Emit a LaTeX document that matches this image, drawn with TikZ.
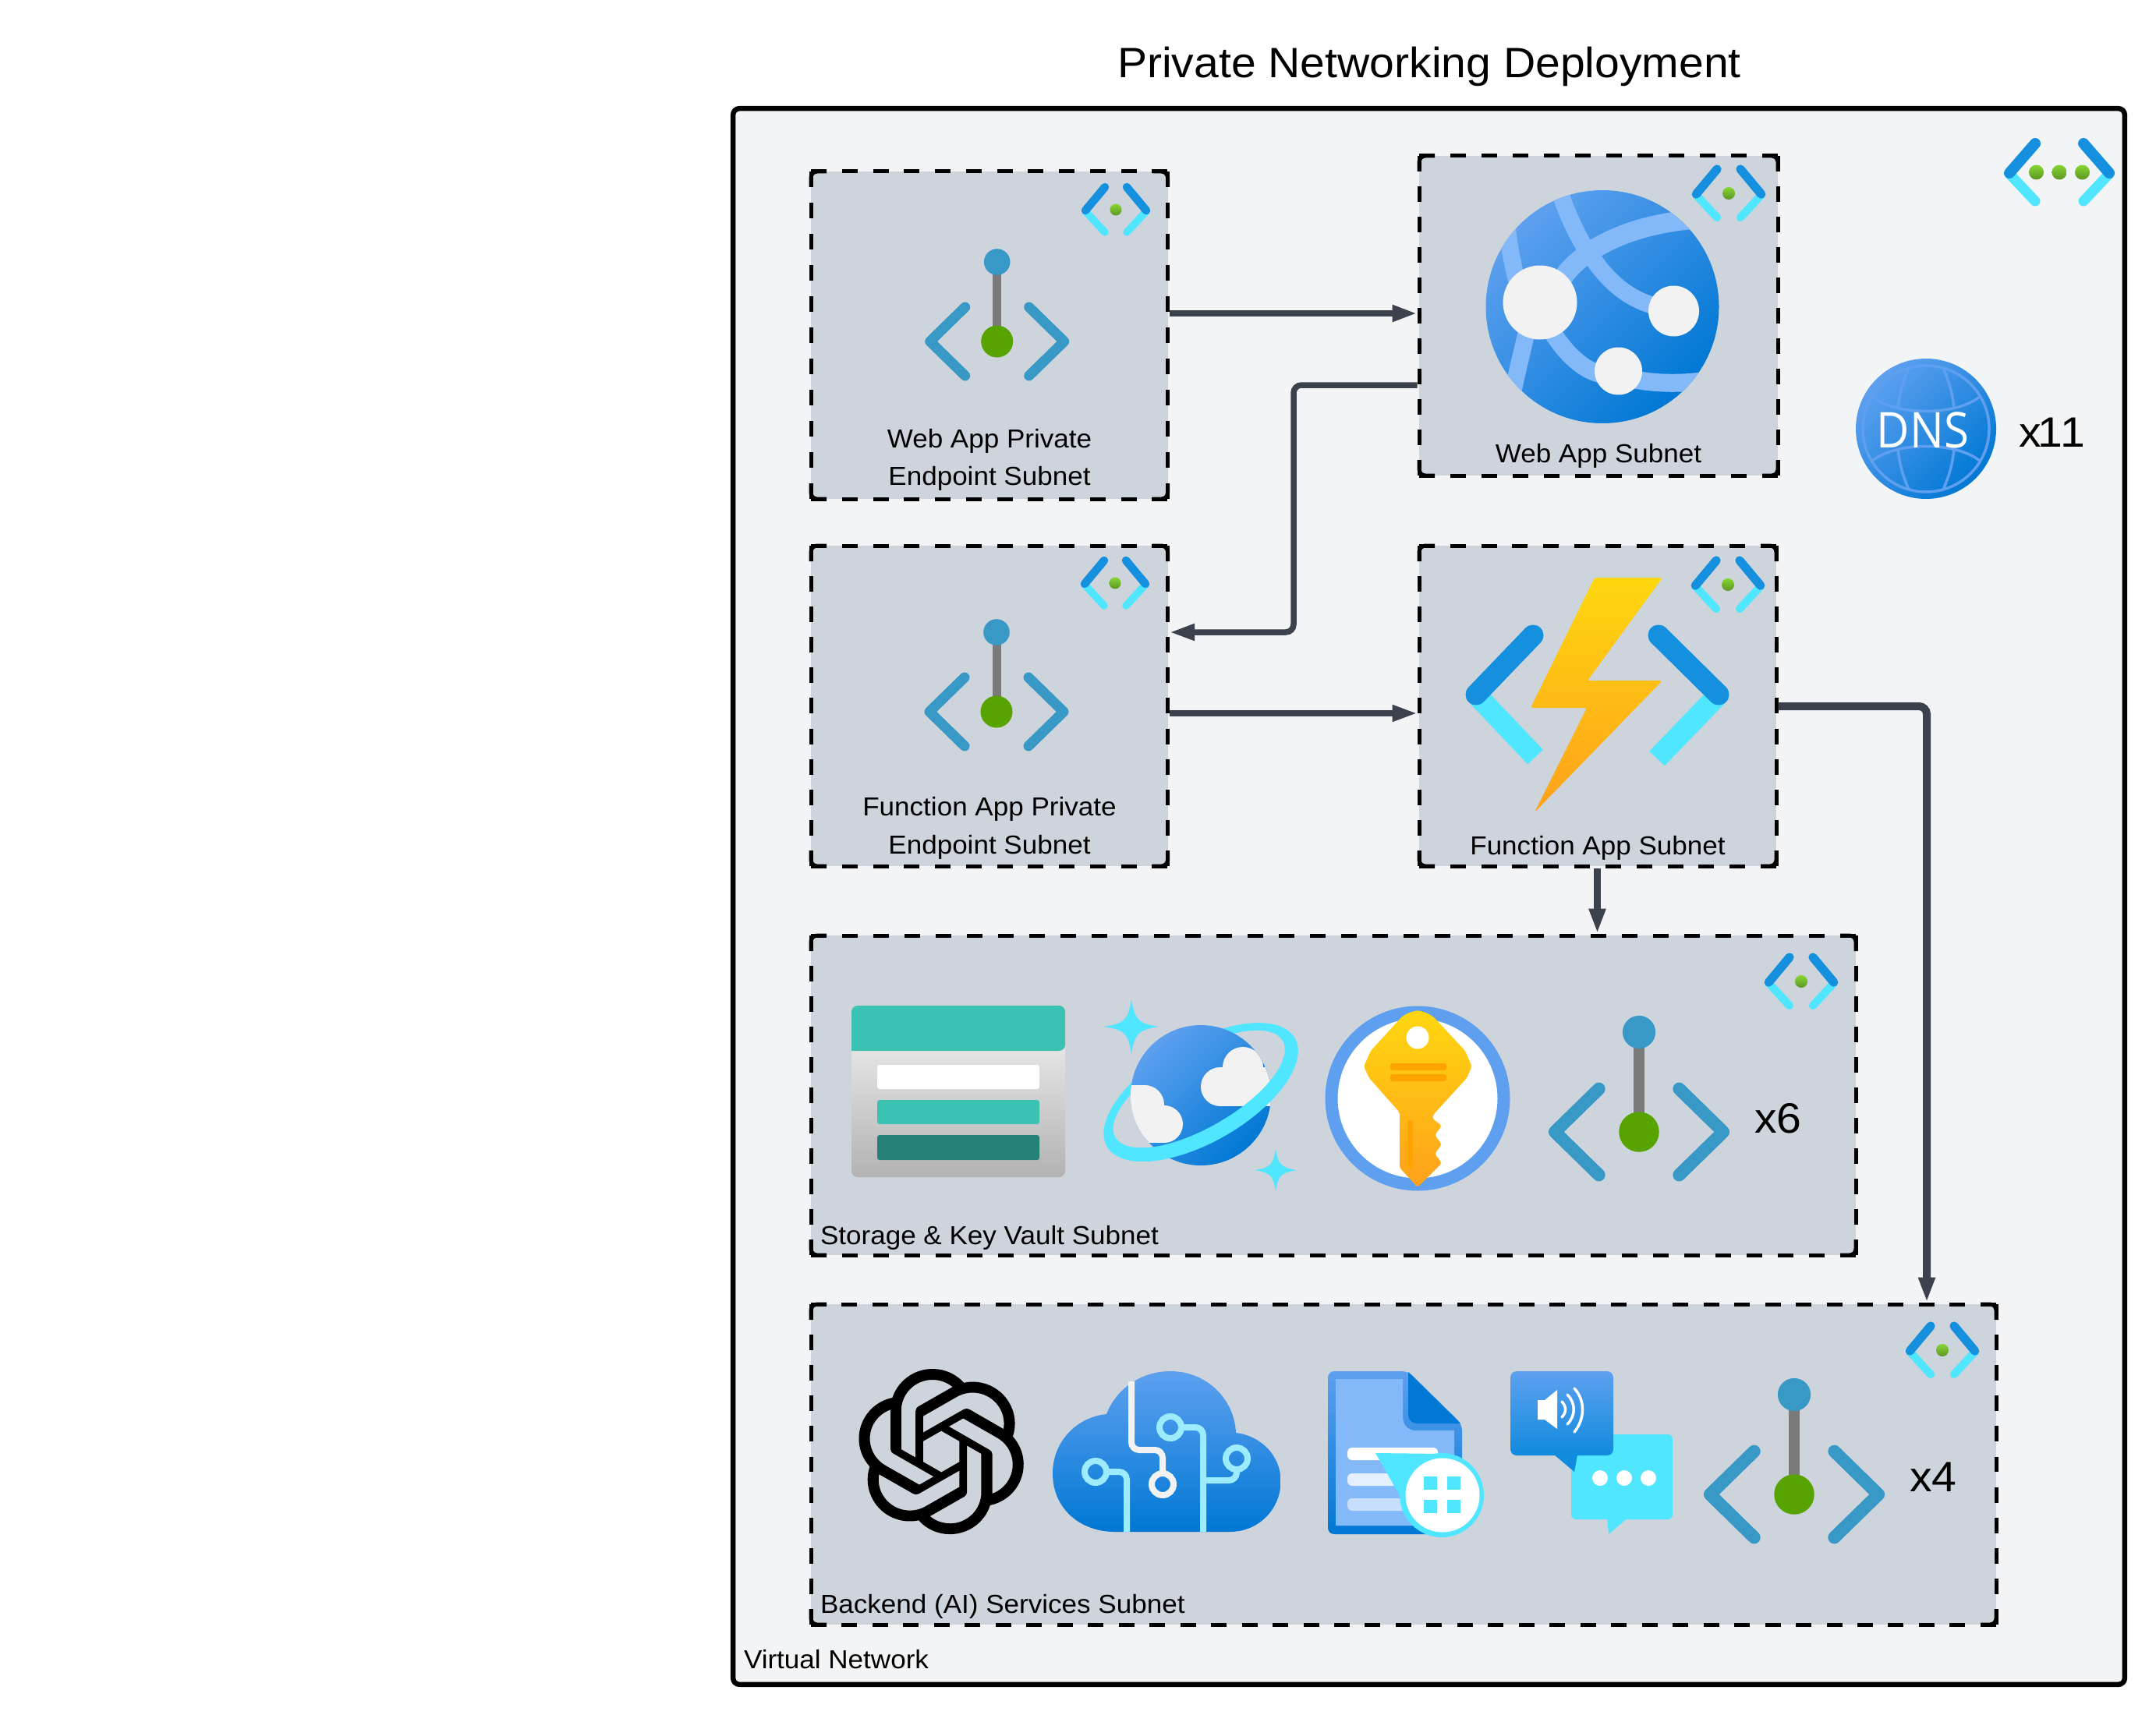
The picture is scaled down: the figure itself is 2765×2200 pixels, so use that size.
\documentclass[tikz,border=0pt]{standalone}
\usepackage{fontspec}
\setmainfont[FakeStretch=1.05]{Liberation Sans}
\newfontfamily\dnsfont[FakeStretch=0.92]{Open Sans}
\usetikzlibrary{arrows.meta,svg.path}
\definecolor{vnetbg}{HTML}{F3F4F6}
\definecolor{subbg}{HTML}{CDD4DC}
\definecolor{conncol}{HTML}{3B424D}
\definecolor{azblue}{HTML}{1490DF}
\definecolor{azcyan}{HTML}{50E6FF}
\definecolor{peblue}{HTML}{3999C6}
\definecolor{pegreen}{HTML}{57A300}
\definecolor{pegray}{HTML}{7A7A7A}
\definecolor{gtop}{HTML}{5EA0EF}
\definecolor{gbot}{HTML}{0078D4}
\definecolor{band}{HTML}{83B9F9}
\definecolor{cloudw}{HTML}{F2F2F2}
\definecolor{teal}{HTML}{3BC2B3}
\definecolor{dteal}{HTML}{258277}
\definecolor{boltt}{HTML}{FED70F}
\definecolor{boltb}{HTML}{FEA11B}
\definecolor{kor}{HTML}{FFA300}
\definecolor{circ}{HTML}{9CEBFF}
\definecolor{dgt}{HTML}{86D633}
\definecolor{dgb}{HTML}{5E9624}
\tikzset{
  subnetbox/.style={fill=subbg,draw=none,inner sep=0pt,outer sep=0.05cm,rectangle},
  conn/.style={draw=conncol,rounded corners=0.2cm},
  tipa/.style={-{Triangle[length=0.64cm,width=0.4cm]}},
  lbl/.style={inner sep=0pt,outer sep=0pt,text=black,font=\fontsize{19pt}{22pt}\selectfont},
  big/.style={inner sep=0pt,outer sep=0pt,text=black,font=\fontsize{31pt}{36pt}\selectfont},
  diag/.style={top color=gtop,bottom color=gbot,shading angle=45},
}
% dashed subnet box: name x1 y1 x2 y2
\newcommand{\subnetframe}[5]{%
  \node[subnetbox,minimum width={(#4-#2)*0.02cm},minimum height={(#5-#3)*0.02cm}] (#1) at ({(#2+#4)/2},{(#3+#5)/2}) {};
  \pgfmathsetmacro\hp{(#4-#2-20)/round((#4-#2-20)/40)}
  \pgfmathsetmacro\hg{(\hp-20)*0.02}
  \pgfmathsetmacro\vp{(#5-#3-20)/round((#5-#3-20)/40)}
  \pgfmathsetmacro\vg{(\vp-20)*0.02}
  \draw[black,line width=0.1cm,dash pattern=on 0.4cm off \hg cm] (#2,#3) -- (#4,#3);
  \draw[black,line width=0.1cm,dash pattern=on 0.4cm off \hg cm] (#2,#5) -- (#4,#5);
  \draw[black,line width=0.1cm,dash pattern=on 0.4cm off \vg cm] (#2,#3) -- (#2,#5);
  \draw[black,line width=0.1cm,dash pattern=on 0.4cm off \vg cm] (#4,#3) -- (#4,#5);
  \draw[black,line width=0.1cm,rounded corners=0.16cm] (#2,#3+20) -- (#2,#3) -- (#2+20,#3);
  \draw[black,line width=0.1cm,rounded corners=0.16cm] (#4,#3+20) -- (#4,#3) -- (#4-20,#3);
  \draw[black,line width=0.1cm,rounded corners=0.16cm] (#2,#5-20) -- (#2,#5) -- (#2+20,#5);
  \draw[black,line width=0.1cm,rounded corners=0.16cm] (#4,#5-20) -- (#4,#5) -- (#4-20,#5);
}
% small subnet icon: x y scale
\newcommand{\subneticon}[3]{%
  \begin{scope}[shift={(#1,#2)},scale=#3,line cap=round,line join=round]
    \draw[azcyan,line width={9.5*#3*0.02cm}] (-39,2) -- (-14,29);
    \draw[azcyan,line width={9.5*#3*0.02cm}] (39,2) -- (14,29);
    \draw[azblue,line width={10.5*#3*0.02cm}] (-39,1) -- (-14,-29);
    \draw[azblue,line width={10.5*#3*0.02cm}] (39,1) -- (14,-29);
    \shade[top color=dgt,bottom color=dgb] (0,0) circle (7.5);
  \end{scope}}
% private endpoint icon: x y (of green dot) scale
\newcommand{\peicon}[3]{%
  \begin{scope}[shift={(#1,#2)},scale=#3,line cap=round,line join=round]
    \fill[pegray] (-5.5,-102) rectangle (5.5,0);
    \fill[peblue] (0,-102) circle (16.8);
    \fill[pegreen] (0,0) circle (20.5);
    \draw[peblue,line width={13*#3*0.02cm}] (-41,-44) -- (-86,0) -- (-41,44);
    \draw[peblue,line width={13*#3*0.02cm}] (41,-44) -- (86,0) -- (41,44);
  \end{scope}}
\newcommand{\sparkle}[3]{%
  \begin{scope}[shift={(#1,#2)},scale=#3]
    \fill[azcyan] (0,-1) .. controls (.12,-.25) and (.25,-.12) .. (1,0) .. controls (.25,.12) and (.12,.25) .. (0,1) .. controls (-.12,.25) and (-.25,.12) .. (-1,0) .. controls (-.25,-.12) and (-.12,-.25) .. (0,-1) -- cycle;
  \end{scope}}
\begin{document}
\begin{tikzpicture}[x=0.02cm,y=-0.02cm]
\useasboundingbox (0,0) rectangle (2765,2200);
\fill[white] (0,0) rectangle (2765,2200);
\node[lbl,anchor=base,font=\fontsize{30.95pt}{36pt}\selectfont] (title) at (1833,100) {Private Networking Deployment};
\node[draw=black,fill=vnetbg,line width=0.13cm,rounded corners=0.16cm,inner sep=0pt,minimum width=35.7cm,minimum height=40.44cm] (vnet) at (1832.5,1150) {};

\subnetframe{webpe}{1040}{220}{1497.5}{640}
\subnetframe{webapp}{1820}{200}{2280}{610}
\subnetframe{funcpe}{1040}{700}{1497.5}{1111}
\subnetframe{funcapp}{1820}{700}{2278}{1111}
\subnetframe{stor}{1040}{1200}{2380}{1610}
\subnetframe{back}{1040}{1673}{2560}{2084}

% subnet icons
\subneticon{1431}{269}{1}
\subneticon{2217}{248}{1.07}
\subneticon{1430}{748}{1}
\subneticon{2216}{750}{1.07}
\subneticon{2310}{1259}{1.07}
\subneticon{2491}{1732}{1.07}
% vnet icon
\begin{scope}[shift={(2641,221)},line cap=round,line join=round]
  \draw[azcyan,line width=0.26cm] (-64,2) -- (-31,37);
  \draw[azcyan,line width=0.26cm] (64,2) -- (31,37);
  \draw[azblue,line width=0.28cm] (-64,1) -- (-31,-37);
  \draw[azblue,line width=0.28cm] (64,1) -- (31,-37);
  \shade[top color=dgt,bottom color=dgb] (-29.5,0) circle (9.5);
  \shade[top color=dgt,bottom color=dgb] (0,0) circle (9.5);
  \shade[top color=dgt,bottom color=dgb] (29.5,0) circle (9.5);
\end{scope}
% private endpoints
\peicon{1278.7}{438}{1}
\peicon{1278}{913}{1}
\peicon{2102}{1452}{1.255}
\peicon{2301}{1917}{1.255}

% web app globe
\shade[diag] (2055,393.5) circle (149.5);
\begin{scope}
  \clip (2055,393.5) circle (149.5);
  \draw[band,line width=0.44cm] (1998,240) .. controls (2010,275) and (2025,310) .. (2045,335) .. controls (2070,370) and (2100,390) .. (2135,395);
  \draw[band,line width=0.5cm] (2005,355) .. controls (2030,320) and (2090,285) .. (2190,280);
  \draw[band,line width=0.44cm] (1932,270) .. controls (1932,300) and (1938,330) .. (1945,360);
  \draw[band,line width=0.44cm] (1958,425) .. controls (1950,460) and (1942,490) .. (1935,530);
  \draw[band,line width=0.46cm] (1990,425) .. controls (2015,465) and (2045,485) .. (2070,480) .. controls (2100,490) and (2140,495) .. (2190,488);
\end{scope}
\fill[cloudw] (1975,388) circle (47.5);
\fill[cloudw] (2146.5,399) circle (32.5);
\fill[cloudw] (2075.5,476) circle (30.5);

% DNS
\shade[diag] (2470,550) circle (90);
\begin{scope}[shift={(2470,550)},gtop,line width=0.07cm]
  \draw (0,0) circle (81);
  \draw (-70,-42) .. controls (-40,-16) and (40,-16) .. (70,-42);
  \draw (-70,42) .. controls (-40,16) and (40,16) .. (70,42);
  \draw (-22,-78) .. controls (-30,-60) and (-34,-45) .. (-36,-26);
  \draw (22,-78) .. controls (30,-60) and (34,-45) .. (36,-26);
  \draw (-22,78) .. controls (-30,60) and (-34,45) .. (-36,26);
  \draw (22,78) .. controls (30,60) and (34,45) .. (36,26);
\end{scope}
\node[inner sep=0pt,outer sep=0pt,anchor=base,text=white,font=\dnsfont\fontsize{36pt}{40pt}\selectfont] (dnstxt) at (2466,574) {DNS};
\node[big,anchor=base west] (x11) at (2589,573) {x\kern-2.5pt 1\kern-1.5pt 1};

% function bolt
\draw[azcyan,line width=0.54cm,line join=round] (1893,891) -- (1969,971);
\draw[azcyan,line width=0.54cm] (2204,891) -- (2125,973);
\begin{scope}[line cap=round]
\draw[azblue,line width=0.54cm] (1893,891) -- (1966,815);
\draw[azblue,line width=0.54cm] (2204,891) -- (2127,815);
\end{scope}
\shade[top color=boltt,bottom color=boltb,rounded corners=0.06cm] (2045,741) -- (2132,741) -- (2036,873) -- (2132,873) -- (1968,1042) -- (2035,908) -- (1963,908) -- cycle;

% storage
\shade[top color=white!90!black,bottom color=black!30,rounded corners=0.16cm] (1092,1340) -- (1092,1510) -- (1366,1510) -- (1366,1340) -- cycle;
\fill[teal,rounded corners=0.16cm] (1092,1348) -- (1092,1290) -- (1366,1290) -- (1366,1348) [sharp corners] -- cycle;
\fill[white,rounded corners=0.06cm] (1125,1366) rectangle (1333,1397);
\fill[teal,rounded corners=0.06cm] (1125,1411) rectangle (1333,1442);
\fill[dteal,rounded corners=0.06cm] (1125,1456) rectangle (1333,1488);

% cosmos
\sparkle{1451}{1317}{35}
\sparkle{1636}{1501}{27}
\begin{scope}[shift={(1540,1401)},rotate=30]
  \fill[azcyan,even odd rule] (0,0) ellipse (139 and 64) (0,-4.5) ellipse (124 and 49.5);
\end{scope}
\shade[diag] (1540,1405) circle (90);
\begin{scope}
  \clip (1540,1405) circle (90);
  \fill[cloudw] (1565,1394) circle (25);
  \fill[cloudw] (1594,1369) circle (26);
  \fill[cloudw] (1565,1369) rectangle (1640,1419);
  \fill[cloudw] (1468,1417) circle (25);
  \fill[cloudw] (1493,1442) circle (24);
  \fill[cloudw] (1440,1392) rectangle (1468,1466);
  \fill[cloudw] (1440,1418) rectangle (1493,1466);
\end{scope}
\begin{scope}[shift={(1540,1401)},rotate=30]
  \clip (-200,0) rectangle (200,100);
  \fill[azcyan,even odd rule] (0,0) ellipse (139 and 64) (0,-4.5) ellipse (124 and 49.5);
\end{scope}

% key vault
\fill[white] (1818,1409) circle (112);
\draw[gtop,line width=0.32cm] (1818,1409) circle (110.5);
\shade[top color=boltt,bottom color=boltb,rounded corners=0.06cm] (1807,1299) -- (1818,1296) -- (1829,1299) -- (1838,1304) -- (1879,1348) -- (1887.5,1368) -- (1881,1383) -- (1838,1430) -- (1837,1435) -- (1849,1444) -- (1840,1456) -- (1849,1468) -- (1840,1480) -- (1849,1492) -- (1818,1523) -- (1795,1498) -- (1795,1427) -- (1756,1383) -- (1749,1368) -- (1758,1348) -- (1798,1304) -- cycle;
\fill[white] (1818,1331) circle (14.5);
\fill[kor,rounded corners=0.06cm] (1783,1364) rectangle (1855,1373);
\fill[kor,rounded corners=0.06cm] (1783,1378) rectangle (1855,1387);
\fill[kor,rounded corners=0.06cm] (1805,1437) rectangle (1812,1499);

% openai knot
\begin{scope}[shift={(1100,1756)},xscale=5.08,yscale=-5.03]
\fill[black] svg {M 22.2819 9.8211 a 5.9847 5.9847 0 0 0 -.5157 -4.9108 6.0462 6.0462 0 0 0 -6.5098 -2.9 A 6.0651 6.0651 0 0 0 4.9807 4.1818 a 5.9847 5.9847 0 0 0 -3.9977 2.9 6.0462 6.0462 0 0 0 .7427 7.0966 5.98 5.98 0 0 0 .511 4.9107 6.051 6.051 0 0 0 6.5146 2.9001 A 5.9847 5.9847 0 0 0 13.2599 24 a 6.0557 6.0557 0 0 0 5.7718 -4.2058 5.9894 5.9894 0 0 0 3.9977 -2.9001 6.0557 6.0557 0 0 0 -.7475 -7.0729 z M 13.2599 22.4292 a 4.4755 4.4755 0 0 1 -2.8764 -1.0408 l .1419 -.0804 4.7783 -2.7582 a .7948 .7948 0 0 0 .3927 -.6813 v -6.7369 l 2.02 1.1686 a .071 .071 0 0 1 .038 .052 v 5.5826 a 4.504 4.504 0 0 1 -4.4945 4.4944 z M 3.5992 18.3038 a 4.4708 4.4708 0 0 1 -.5346 -3.0137 l .142 .0852 4.783 2.7582 a .7712 .7712 0 0 0 .7806 0 l 5.8428 -3.3685 v 2.3324 a .0804 .0804 0 0 1 -.0332 .0615 L 9.74 19.9502 a 4.4992 4.4992 0 0 1 -6.1408 -1.6464 z M 2.3408 7.8956 a 4.485 4.485 0 0 1 2.3655 -1.9728 V 11.6 a .7664 .7664 0 0 0 .3879 .6765 l 5.8144 3.3543 -2.0201 1.1685 a .0757 .0757 0 0 1 -.071 0 l -4.8303 -2.7865 A 4.504 4.504 0 0 1 2.3408 7.872 z M 18.9371 11.7514 L 13.1038 8.364 15.1192 7.2 a .0757 .0757 0 0 1 .071 0 l 4.8303 2.7913 a 4.4944 4.4944 0 0 1 -.6765 8.1042 v -5.6772 a .79 .79 0 0 0 -.407 -.667 z M 20.9478 8.7283 l -.142 -.0852 -4.7735 -2.7818 a .7759 .7759 0 0 0 -.7854 0 L 9.409 9.2297 V 6.8974 a .0662 .0662 0 0 1 .0284 -.0615 l 4.8303 -2.7866 a 4.4992 4.4992 0 0 1 6.6802 4.66 z M 8.3065 12.863 l -2.02 -1.1638 a .0804 .0804 0 0 1 -.038 -.0567 V 6.0742 a 4.4992 4.4992 0 0 1 7.3757 -3.4537 l -.142 .0805 L 8.704 5.459 a .7948 .7948 0 0 0 -.3927 .6813 z M 9.4041 10.4976 l 2.602 -1.4998 2.6069 1.4998 v 2.9994 l -2.5974 1.4997 -2.6067 -1.4997 Z};
\end{scope}

% AI cloud
\shade[top color=gtop,bottom color=gbot] (1430,1965) .. controls (1385,1965) and (1350,1935) .. (1350,1890) .. controls (1350,1850) and (1380,1818) .. (1419,1814) .. controls (1430,1785) and (1460,1759) .. (1501,1759) .. controls (1548,1759) and (1583,1795) .. (1585,1838) .. controls (1618,1842) and (1642.6,1868) .. (1642.6,1900) .. controls (1642.6,1935) and (1615,1965) .. (1577,1965) -- cycle;
\begin{scope}[line width=0.16cm,rounded corners=0.2cm]
  \draw[cloudw] (1451,1772) -- (1451,1860) -- (1491,1860) -- (1491,1890);
  \draw[cloudw] (1491,1904) circle (14);
  \draw[circ] (1405,1888) circle (14);
  \draw[circ] (1419,1888) -- (1445,1888) -- (1445,1965);
  \draw[circ] (1501,1831) circle (14);
  \draw[circ] (1515,1831) -- (1543,1831) -- (1543,1965);
  \draw[circ] (1586,1871) circle (14);
  \draw[circ] (1586,1885) -- (1586,1899) -- (1543,1899);
\end{scope}

% document intelligence
\shade[top color=gtop,bottom color=gbot,rounded corners=0.16cm] (1703,1759) -- (1806,1759) -- (1875,1827) -- (1875,1968) -- (1703,1968) -- cycle;
\fill[band] (1713,1769) -- (1799,1769) -- (1799,1817) .. controls (1799,1828) and (1806,1835) .. (1815,1835) -- (1865,1835) -- (1865,1957) -- (1713,1957) -- cycle;
\fill[gbot] (1806,1760) -- (1873,1826) -- (1818,1826) .. controls (1811,1826) and (1806,1822) .. (1806,1815) -- cycle;
\fill[white,rounded corners=0.12cm] (1728,1857) rectangle (1844,1873);
\fill[white!78!band,rounded corners=0.12cm] (1728,1890) rectangle (1830,1906);
\fill[white!55!band,rounded corners=0.12cm] (1728,1922) rectangle (1830,1938);
\fill[azcyan] (1764,1864) -- (1849,1865) -- (1820,1962) -- cycle;
\fill[azcyan] (1849,1918) circle (54);
\fill[white] (1850,1918) circle (47.5);
\fill[azcyan] (1826,1894) rectangle (1843,1911);
\fill[azcyan] (1856,1894) rectangle (1873,1911);
\fill[azcyan] (1826,1924) rectangle (1843,1941);
\fill[azcyan] (1856,1924) rectangle (1873,1941);

% speech
\fill[azcyan,rounded corners=0.12cm] (2015,1840) rectangle (2145,1949);
\fill[azcyan] (2061,1945) -- (2063,1968) -- (2090,1945) -- cycle;
\shade[top color=gtop,bottom color=azblue!80!gbot,rounded corners=0.16cm] (1937,1759) rectangle (2069,1867);
\fill[azblue!80!gbot] (1993,1866) -- (2019,1888) -- (2023,1866) -- cycle;
\fill[white] (2052,1896) circle (10);
\fill[white] (2083,1896) circle (10);
\fill[white] (2114,1896) circle (10);
\fill[white] (1972,1796) -- (1981,1796) -- (1997,1783) -- (1997,1833) -- (1981,1821) -- (1972,1821) -- cycle;
\begin{scope}[white,line width=0.07cm,line cap=round]
  \draw (2003,1798) .. controls (2009,1804) and (2009,1812) .. (2003,1818);
  \draw (2010,1789) .. controls (2021,1800) and (2021,1816) .. (2010,1827);
  \draw (2019,1781) .. controls (2033,1796) and (2033,1820) .. (2019,1837);
\end{scope}

% connectors
\coordinate (ya) at (0,402);
\coordinate (yb) at (0,494);
\coordinate (yc) at (0,811);
\coordinate (yd) at (0,915);
\coordinate (ye) at (0,906);
\coordinate (xc) at (1659,0);
\coordinate (xd) at (2048.5,0);
\coordinate (xe) at (2471,0);
\draw[conn,tipa,line width=0.16cm] (webpe.east |- ya) -- (webapp.west |- ya);
\draw[conn,tipa,line width=0.15cm] (webapp.west |- yb) -- (xc |- yb) -- (xc |- yc) -- (funcpe.east |- yc);
\draw[conn,tipa,line width=0.15cm] (funcpe.east |- yd) -- (funcapp.west |- yd);
\draw[conn,tipa,line width=0.18cm] (xd |- funcapp.south) -- (xd |- stor.north);
\draw[conn,tipa,line width=0.2cm] (funcapp.east |- ye) -- (xe |- ye) -- (xe |- back.north);

% text
\node[lbl,anchor=base] (t1a) at (1269,574) {Web App Private};
\node[lbl,anchor=base] (t1b) at (1269,622) {Endpoint Subnet};
\node[lbl,anchor=base] (t2) at (2050,593) {Web App Subnet};
\node[lbl,anchor=base] (t3a) at (1269,1046) {Function App Private};
\node[lbl,anchor=base] (t3b) at (1269,1095) {Endpoint Subnet};
\node[lbl,anchor=base] (t4) at (2049,1096) {Function App Subnet};
\node[lbl,anchor=base west] (t5) at (1052,1596) {Storage \& Key Vault Subnet};
\node[lbl,anchor=base west] (t6) at (1052,2069) {Backend (AI) Services Subnet};
\node[lbl,anchor=base west] (t7) at (954,2140) {Virtual Network};
\node[big,anchor=base west] (x6) at (2250,1453) {x6};
\node[big,anchor=base west] (x4) at (2449,1913) {x4};
\end{tikzpicture}
\end{document}
